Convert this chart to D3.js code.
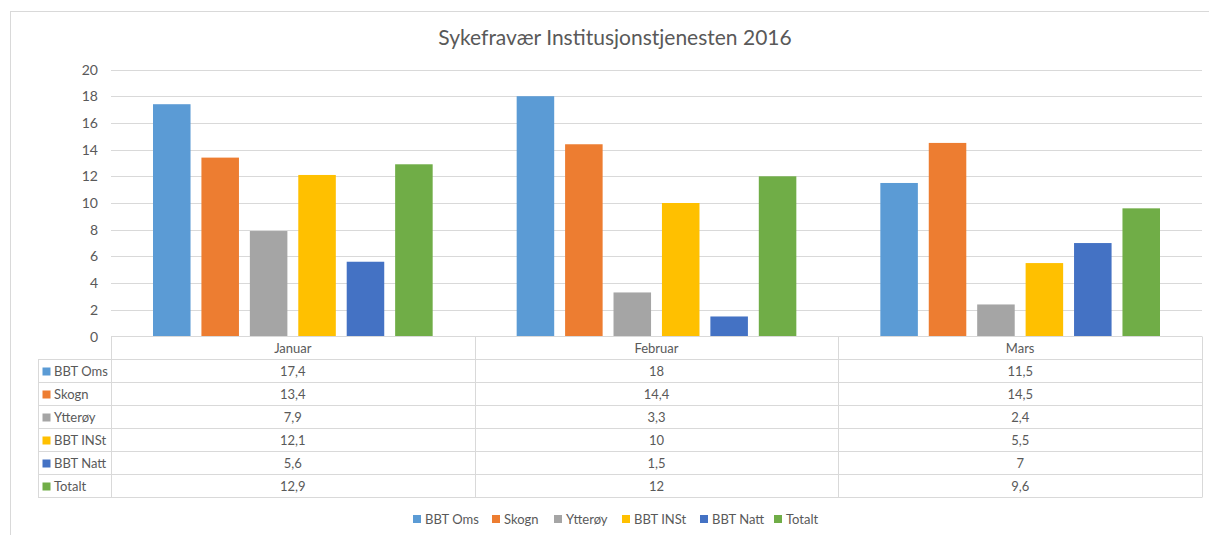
<!DOCTYPE html>
<html>
<head>
<meta charset="utf-8">
<script src="https://cdn.jsdelivr.net/npm/d3@7"></script>
<style>
  body { margin: 0; background: #fff; }
  text { font-family: Lato, "Open Sans", sans-serif; fill: #595959; }
</style>
</head>
<body>
<div id="chart"></div>
<script>
// data
var months = ["Januar", "Februar", "Mars"];
var seriesNames = ["BBT Oms", "Skogn", "Ytterøy", "BBT INSt", "BBT Natt", "Totalt"];
var bbtOms = [17.4, 18, 11.5];
var skogn = [13.4, 14.4, 14.5];
var ytteroy = [7.9, 3.3, 2.4];
var bbtInst = [12.1, 10, 5.5];
var bbtNatt = [5.6, 1.5, 7];
var totalt = [12.9, 12, 9.6];
var yTicks = [0, 2, 4, 6, 8, 10, 12, 14, 16, 18, 20];
var colors = ["#5B9BD5", "#ED7D31", "#A5A5A5", "#FFC000", "#4472C4", "#70AD47"];

var allSeries = [bbtOms, skogn, ytteroy, bbtInst, bbtNatt, totalt];

var width = 1209;
var height = 535;

var svg = d3.select("#chart")
  .append("svg")
  .attr("width", width)
  .attr("height", height);

// chart border
svg.append("rect")
  .attr("x", 10.5)
  .attr("y", 11.5)
  .attr("width", 1205)
  .attr("height", 540)
  .attr("fill", "none")
  .attr("stroke", "#d9d9d9");

svg.append("text")
  .attr("x", 615)
  .attr("y", 45)
  .attr("text-anchor", "middle")
  .style("font-size", "21px")
  .text("Sykefravær Institusjonstjenesten 2016");

var plotLeft = 111, plotRight = 1202;
var y = d3.scaleLinear().domain([0, 20]).range([336.5, 69.5]);

var x0 = d3.scaleBand().domain(months).range([plotLeft, plotRight]).padding(0);
var x1 = d3.scaleBand().domain(seriesNames)
  .range([42, x0.bandwidth() - 42])
  .paddingInner(0.225)
  .paddingOuter(0);

// gridlines
svg.append("g").selectAll("line")
  .data(yTicks.filter(function (d) { return d > 0; }))
  .enter()
  .append("line")
  .attr("x1", plotLeft)
  .attr("x2", plotRight)
  .attr("y1", function (d) { return Math.round(y(d)) + 0.5; })
  .attr("y2", function (d) { return Math.round(y(d)) + 0.5; })
  .attr("stroke", "#d9d9d9");

// y axis labels
svg.append("g").selectAll("text")
  .data(yTicks)
  .enter()
  .append("text")
  .attr("x", 98)
  .attr("y", function (d) { return y(d) + 5; })
  .attr("text-anchor", "end")
  .style("font-size", "14px")
  .text(function (d) { return d; });

// bars
var groups = svg.append("g").selectAll("g")
  .data(months)
  .enter()
  .append("g")
  .attr("transform", function (d) { return "translate(" + x0(d) + ",0)"; });

groups.selectAll("rect")
  .data(function (m, mi) {
    return seriesNames.map(function (s, si) {
      return { name: s, value: allSeries[si][mi], color: colors[si] };
    });
  })
  .enter()
  .append("rect")
  .attr("x", function (d) { return x1(d.name); })
  .attr("width", x1.bandwidth())
  .attr("y", function (d) { return y(d.value); })
  .attr("height", function (d) { return y(0) - y(d.value); })
  .attr("fill", function (d) { return d.color; });

// data table
var tableLeft = 38;
var rowTop = 336.5;
var rowH = 23;
var tbl = svg.append("g");

// axis line / header top
tbl.append("line")
  .attr("x1", plotLeft).attr("x2", plotRight)
  .attr("y1", rowTop).attr("y2", rowTop)
  .attr("stroke", "#d9d9d9");

// horizontal row lines
d3.range(1, seriesNames.length + 2).forEach(function (i) {
  tbl.append("line")
    .attr("x1", tableLeft).attr("x2", plotRight)
    .attr("y1", rowTop + i * rowH).attr("y2", rowTop + i * rowH)
    .attr("stroke", "#d9d9d9");
});

// vertical lines
tbl.append("line")
  .attr("x1", tableLeft + 0.5).attr("x2", tableLeft + 0.5)
  .attr("y1", rowTop + rowH).attr("y2", rowTop + (seriesNames.length + 1) * rowH)
  .attr("stroke", "#d9d9d9");
months.concat(["end"]).forEach(function (m, i) {
  var xx = i < months.length ? x0(m) : plotRight;
  tbl.append("line")
    .attr("x1", Math.round(xx) + 0.5).attr("x2", Math.round(xx) + 0.5)
    .attr("y1", rowTop).attr("y2", rowTop + (seriesNames.length + 1) * rowH)
    .attr("stroke", "#d9d9d9");
});

// header texts
tbl.selectAll(".hdr")
  .data(months)
  .enter()
  .append("text")
  .attr("class", "hdr")
  .attr("x", function (d) { return x0(d) + x0.bandwidth() / 2; })
  .attr("y", rowTop + 16.5)
  .attr("text-anchor", "middle")
  .style("font-size", "13px")
  .text(function (d) { return d; });

// series rows
seriesNames.forEach(function (s, si) {
  var ry = rowTop + (si + 1) * rowH;
  tbl.append("rect")
    .attr("x", 42.5).attr("y", ry + 8)
    .attr("width", 8).attr("height", 8)
    .attr("fill", colors[si]);
  tbl.append("text")
    .attr("x", 54).attr("y", ry + 16.5)
    .style("font-size", "13px")
    .text(s);
  tbl.selectAll(".v" + si)
    .data(allSeries[si])
    .enter()
    .append("text")
    .attr("x", function (d, mi) { return x0(months[mi]) + x0.bandwidth() / 2; })
    .attr("y", ry + 16.5)
    .attr("text-anchor", "middle")
    .style("font-size", "13px")
    .text(function (d) { return String(d).replace(".", ","); });
});

// legend
var legendX = [413, 492, 554, 622, 700, 774];
var legend = svg.append("g");
seriesNames.forEach(function (s, si) {
  legend.append("rect")
    .attr("x", legendX[si]).attr("y", 515)
    .attr("width", 8).attr("height", 8)
    .attr("fill", colors[si]);
  legend.append("text")
    .attr("x", legendX[si] + 12).attr("y", 523.5)
    .style("font-size", "13px")
    .text(s);
});
</script>
</body>
</html>
